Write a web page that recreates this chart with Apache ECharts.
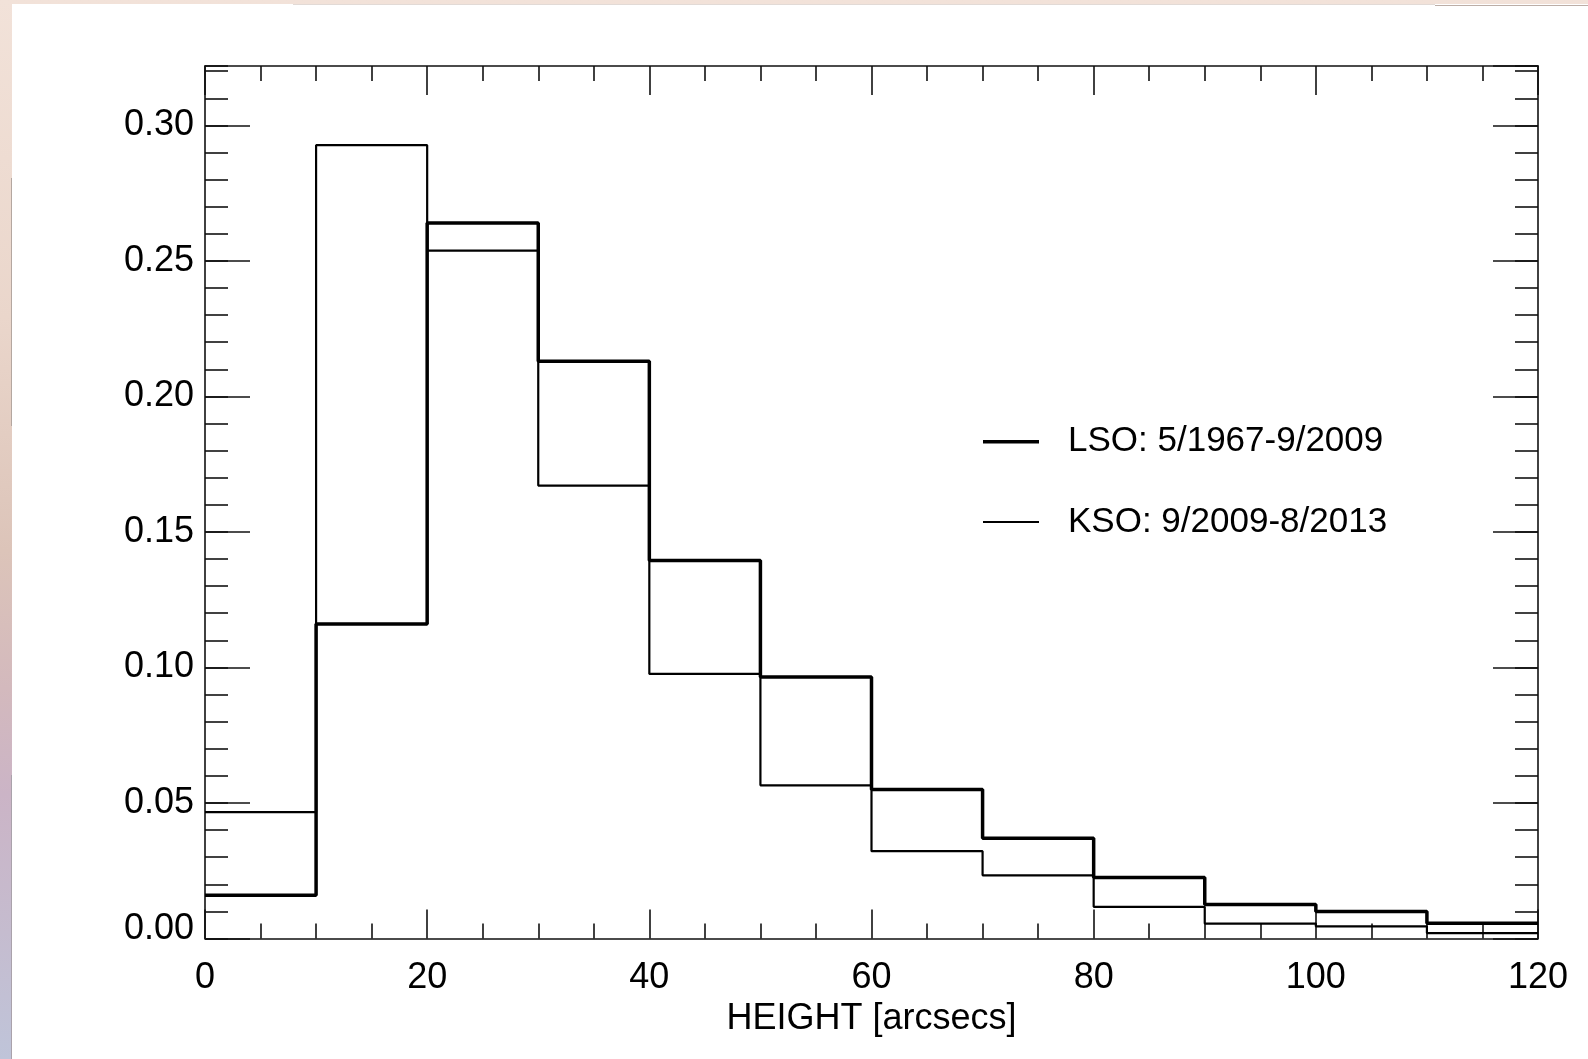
<!DOCTYPE html>
<html>
<head>
<meta charset="utf-8">
<script src="https://cdn.jsdelivr.net/npm/echarts@6/dist/echarts.min.js"></script>
<style>
html,body{margin:0;padding:0;width:1588px;height:1059px;overflow:hidden;}
#bg{position:absolute;left:0;top:0;width:1588px;height:1059px;
 background:linear-gradient(to bottom,#f2e2d9 0%,#ead6cb 30%,#dcc4b9 52%,#d3b9bd 65%,#cbb4c6 75%,#c5bccf 88%,#bfc4d9 100%);}
#paper{position:absolute;left:12px;top:4px;width:1576px;height:1055px;background:#fff;}
.art{position:absolute;}
#chart{position:absolute;left:0;top:0;width:1588px;height:1059px;}
</style>
</head>
<body>
<div id="bg"></div>
<div id="paper"></div>
<div class="art" style="left:11px;top:178px;width:1px;height:248px;background:#b4a7a0;"></div>
<div class="art" style="left:11px;top:775px;width:1px;height:284px;background:#aaa2ab;"></div>
<div class="art" style="left:1435px;top:5px;width:153px;height:1px;background:#bcaea7;"></div>
<div class="art" style="left:293px;top:4px;width:1142px;height:1px;background:#e2dad6;"></div>
<div id="chart"></div>
<script>
// ---- data ----
const binStarts = [0, 10, 20, 30, 40, 50, 60, 70, 80, 90, 100, 110];
const binEnd = 120;
const lsoValues = [0.016, 0.116, 0.264, 0.213, 0.1395, 0.0965, 0.055, 0.037, 0.0225, 0.0125, 0.010, 0.0056];
const ksoValues = [0.0466, 0.2927, 0.2538, 0.1671, 0.0976, 0.0565, 0.0322, 0.0233, 0.0117, 0.0055, 0.0045, 0.0020];
const lsoName = 'LSO: 5/1967-9/2009';
const ksoName = 'KSO: 9/2009-8/2013';
const xTickStep = 20;
const yTickStep = 0.05;
const yMinorStep = 0.01;
const xMax = 120;
const yMax = 0.3219;
const xTitle = 'HEIGHT [arcsecs]';

function stepData(values) {
  const d = binStarts.map((x, i) => [x, values[i]]);
  d.push([binEnd, values[values.length - 1]]);
  return d;
}

const FONT = "'Liberation Sans', Arial, Helvetica, sans-serif";
const lineSt = { color: '#111', width: 1.6 };

function xAx(pos, labels) {
  return {
    type: 'value', position: pos, min: 0, max: xMax, interval: xTickStep,
    axisLine: { show: true, onZero: false, lineStyle: lineSt },
    axisTick: { show: true, inside: true, length: 29, lineStyle: lineSt },
    minorTick: { show: true, splitNumber: 4, length: 15, lineStyle: lineSt },
    splitLine: { show: false }, minorSplitLine: { show: false },
    axisLabel: labels ? { show: true, fontSize: 36, color: '#000', fontFamily: FONT, margin: 22 } : { show: false },
    name: labels ? xTitle : '',
    nameLocation: 'middle', nameGap: 56,
    nameTextStyle: { fontSize: 36, color: '#000', fontFamily: FONT }
  };
}
function yMajor(pos, labels) {
  return {
    type: 'value', position: pos, min: 0, max: yMax, interval: yTickStep,
    axisLine: { show: true, onZero: false, lineStyle: lineSt },
    axisTick: { show: true, inside: true, length: 45, lineStyle: lineSt },
    splitLine: { show: false },
    axisLabel: labels ? {
      show: true, fontSize: 36, color: '#000', fontFamily: FONT, margin: 11,
      showMaxLabel: false,
      formatter: v => (v === 0 ? '{z|0.00}' : v.toFixed(2)),
      rich: { z: { fontSize: 36, color: '#000', fontFamily: FONT, padding: [0, 0, 18, 0] } }
    } : { show: false }
  };
}
function yMinor(pos) {
  return {
    type: 'value', position: pos, min: 0, max: yMax, interval: yMinorStep,
    axisLine: { show: false, onZero: false },
    axisTick: { show: true, inside: true, length: 23, lineStyle: lineSt },
    splitLine: { show: false },
    axisLabel: { show: false }
  };
}
function legendFor(name, top, h) {
  return {
    data: [name], left: 983, top: top, orient: 'vertical', padding: 0,
    icon: 'rect', itemWidth: 56, itemHeight: h,
    itemStyle: { color: '#000', borderWidth: 0 },
    selectedMode: false,
    textStyle: { fontSize: 35, color: '#000', fontFamily: FONT, lineHeight: 40, padding: [0, 0, 0, 24] }
  };
}

const chart = echarts.init(document.getElementById('chart'), null, { renderer: 'canvas' });
chart.setOption({
  animation: false,
  backgroundColor: 'transparent',
  grid: { left: 205, right: 50, top: 66, bottom: 120.5, containLabel: false },
  legend: [legendFor(lsoName, 421.7, 3.5), legendFor(ksoName, 502, 2)],
  xAxis: [xAx('bottom', true), xAx('top', false)],
  yAxis: [yMajor('left', true), yMinor('left'), yMajor('right', false), yMinor('right')],
  series: [
    { type: 'line', name: ksoName, step: 'end', data: stepData(ksoValues), symbol: 'none',
      xAxisIndex: 0, yAxisIndex: 0, lineStyle: { color: '#000', width: 2.2 }, itemStyle: { color: '#000' }, z: 2 },
    { type: 'line', name: lsoName, step: 'end', data: stepData(lsoValues), symbol: 'none',
      xAxisIndex: 0, yAxisIndex: 0, lineStyle: { color: '#000', width: 3.5 }, itemStyle: { color: '#000' }, z: 3 }
  ]
});
</script>
</body>
</html>
